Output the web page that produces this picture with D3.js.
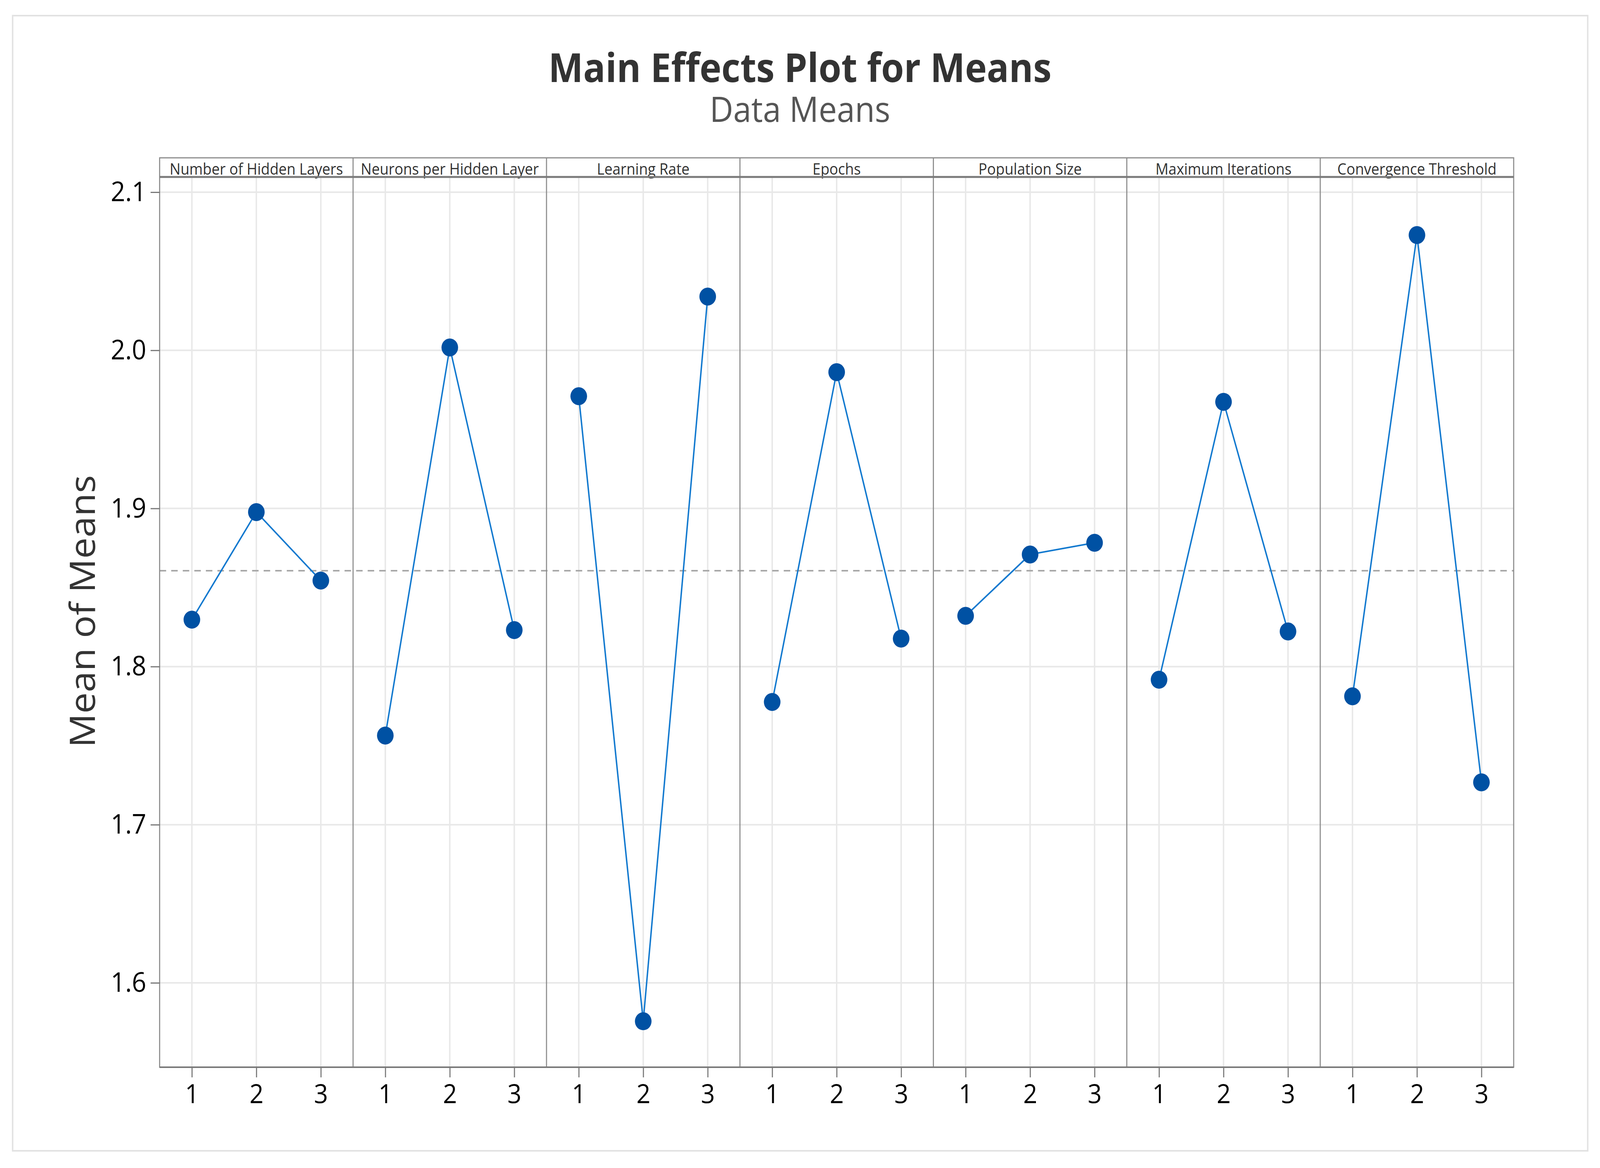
<!DOCTYPE html>
<html><head><meta charset="utf-8">
<script src="https://cdn.jsdelivr.net/npm/d3@7"></script>
<style>html,body{margin:0;padding:0;background:#fff;overflow:hidden;width:100%;height:100%}svg{display:block;width:100vw;height:100vh}</style>
</head><body>
<svg id="c" viewBox="0 0 4430 2990" preserveAspectRatio="none"></svg>
<script>
// ---- data ----
const factors = ["Number of Hidden Layers","Neurons per Hidden Layer","Learning Rate","Epochs","Population Size","Maximum Iterations","Convergence Threshold"];
const levels = [1,2,3];
const meansHiddenLayers = [1.8297,1.8977,1.8544];
const meansNeurons      = [1.7564,2.0018,1.8231];
const meansLearningRate = [1.9710,1.5757,2.0340];
const meansEpochs       = [1.7776,1.9862,1.8177];
const meansPopulation   = [1.8321,1.8709,1.8783];
const meansMaxIter      = [1.7917,1.9674,1.8222];
const meansConvergence  = [1.7812,2.0729,1.7268];
const yTicks = [1.6,1.7,1.8,1.9,2.0,2.1];
const grandMean = 1.8606;
const titleText = "Main Effects Plot for Means";
const subtitleText = "Data Means";
const yTitle = "Mean of Means";

const series = [meansHiddenLayers,meansNeurons,meansLearningRate,meansEpochs,meansPopulation,meansMaxIter,meansConvergence];

// ---- layout ----
const FONT = "'Open Sans','Noto Sans',sans-serif";
const svg = d3.select("#c");
const L = 442, R = 4191, stripTop = 404, stripBot = 453, B = 2732;
const pw = (R - L) / factors.length;

svg.append("rect").attr("x",0).attr("y",0).attr("width",4430).attr("height",2990).attr("fill","#fff");
svg.append("rect").attr("x",35).attr("y",40).attr("width",4361).attr("height",2906)
  .attr("fill","none").attr("stroke","#e2e2e2").attr("stroke-width",4);

const y = d3.scaleLinear().domain([1.6,2.1]).range([2516,492]);

// titles
svg.append("text").attr("x",2215).attr("y",210).attr("text-anchor","middle")
  .attr("font-family",FONT).attr("font-weight","bold").attr("font-size",102).attr("fill","#333")
  .text(titleText);
svg.append("text").attr("x",2215).attr("y",312).attr("text-anchor","middle")
  .attr("font-family",FONT).attr("font-size",90).attr("fill","#555")
  .text(subtitleText);
svg.append("text").attr("transform","translate(263,1565) rotate(-90)").attr("text-anchor","middle")
  .attr("font-family",FONT).attr("font-size",97).attr("fill","#333")
  .text(yTitle);

// horizontal gridlines
svg.append("g").selectAll("line").data(yTicks).join("line")
  .attr("x1",L).attr("x2",R).attr("y1",d=>y(d)).attr("y2",d=>y(d))
  .attr("stroke","#e8e8e8").attr("stroke-width",4);

// panels
factors.forEach((f,i)=>{
  const x0 = L + i*pw;
  const x = d3.scaleLinear().domain([0.5,3.5]).range([x0, x0+pw]);
  const g = svg.append("g");
  g.selectAll("line.vg").data(levels).join("line").attr("class","vg")
    .attr("x1",d=>x(d)).attr("x2",d=>x(d)).attr("y1",stripBot).attr("y2",B)
    .attr("stroke","#e8e8e8").attr("stroke-width",4);
  const ax = g.append("g").attr("transform",`translate(0,${B})`)
    .call(d3.axisBottom(x).tickValues(levels).tickFormat(d3.format("d")).tickSize(26).tickPadding(18));
  ax.select(".domain").remove();
  ax.selectAll(".tick line").attr("stroke","#777").attr("stroke-width",3);
  ax.selectAll(".tick text").attr("font-family",FONT).attr("font-size",68).attr("fill","#000");
  g.append("text").attr("x",x(2)).attr("y",447).attr("text-anchor","middle")
    .attr("font-family",FONT).attr("font-size",40).attr("fill","#333").text(f);
});

// mean reference line
svg.append("line").attr("x1",L).attr("x2",R).attr("y1",y(grandMean)).attr("y2",y(grandMean))
  .attr("stroke","#a8a8a8").attr("stroke-width",4).attr("stroke-dasharray","18,14");

// panel dividers
svg.append("g").selectAll("line").data(d3.range(1,factors.length)).join("line")
  .attr("x1",d=>L+d*pw).attr("x2",d=>L+d*pw).attr("y1",stripTop).attr("y2",B)
  .attr("stroke","#8c8c8c").attr("stroke-width",3);
svg.append("rect").attr("x",L).attr("y",stripTop).attr("width",R-L).attr("height",B-stripTop)
  .attr("fill","none").attr("stroke","#8c8c8c").attr("stroke-width",3);
svg.append("line").attr("x1",L).attr("x2",R).attr("y1",stripBot).attr("y2",stripBot)
  .attr("stroke","#7a7a7a").attr("stroke-width",5);
svg.append("line").attr("x1",L).attr("x2",R).attr("y1",B).attr("y2",B)
  .attr("stroke","#7a7a7a").attr("stroke-width",4);

// y axis
const ay = svg.append("g").attr("transform",`translate(${L},0)`)
  .call(d3.axisLeft(y).tickValues(yTicks).tickFormat(d3.format(".1f")).tickSize(25).tickPadding(12));
ay.select(".domain").remove();
ay.selectAll(".tick line").attr("stroke","#777").attr("stroke-width",3);
ay.selectAll(".tick text").attr("font-family",FONT).attr("font-size",70).attr("fill","#000");

// data lines and points
factors.forEach((f,i)=>{
  const x0 = L + i*pw;
  const x = d3.scaleLinear().domain([0.5,3.5]).range([x0, x0+pw]);
  const pts = levels.map((lv,k)=>({lv, v:series[i][k]}));
  const line = d3.line().x(d=>x(d.lv)).y(d=>y(d.v));
  svg.append("path").datum(pts).attr("d",line).attr("fill","none")
    .attr("stroke","#1279cf").attr("stroke-width",4);
  svg.append("g").selectAll("circle").data(pts).join("circle")
    .attr("cx",d=>x(d.lv)).attr("cy",d=>y(d.v)).attr("r",23).attr("fill","#0051a3");
});
</script>
</body></html>
